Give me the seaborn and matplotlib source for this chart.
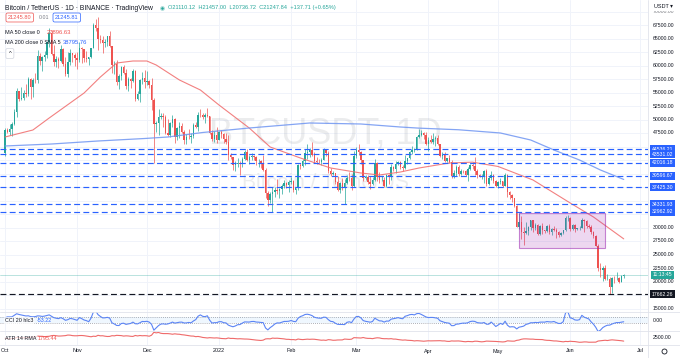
import numpy as np
import pandas as pd
import matplotlib
matplotlib.use("Agg")
import matplotlib.pyplot as plt
import matplotlib.transforms as mtransforms
from matplotlib.patches import Rectangle
import seaborn as sns

# ---------------- data ----------------
start_date = "2021-10-01"          # first visible candle
warm_start = "2021-09-11"          # warm-up days (indicators only)

warm_close = [45161, 46026, 44940, 47112, 48146, 47754, 47300, 48314, 47250, 42970,
              40614, 43576, 44895, 42839, 42716, 43208, 42235, 41034, 41564, 43791]
warm_high = [45987, 46460, 46880, 47250, 48500, 48500, 48170, 48843, 48370, 47336,
             43638, 44000, 44978, 45200, 42970, 43950, 44350, 42787, 42590, 44132]
warm_low = [44722, 44742, 43370, 44750, 46700, 47020, 46750, 47045, 46850, 42500,
            39600, 40565, 43091, 40675, 41646, 40750, 42098, 40900, 40753, 41410]

close = [
    # Oct
    48141, 47634, 48200, 49224, 51471, 55315, 53785, 53951, 54949, 54659, 57471, 56005, 57367, 57347, 61672, 60875,
    61528, 62009, 64280, 66001, 62193, 60689, 61286, 60852, 63078, 60328, 58413, 60575, 62253, 61859, 61300,
    # Nov
    61004, 63227, 62971, 61452, 61125, 61527, 63326, 67566, 66971, 64882, 64774, 64122, 64380, 65519, 63607,
    60058, 60344, 56891, 58052, 59707, 58623, 56247, 57541, 57138, 58960, 53726, 54721, 57274, 57776, 56950,
    # Dec
    57184, 56480, 53601, 49152, 49396, 50441, 50588, 50471, 47545, 47140, 49389, 50053, 46702, 48343, 48864, 47632,
    46131, 46834, 46681, 46914, 48889, 48588, 50838, 50821, 50429, 50809, 50640, 47589, 46444, 47140, 46217,
    # Jan
    47722, 47286, 46446, 45832, 43451, 43082, 41566, 41680, 41864, 41822, 42735, 43949, 42591, 43099, 43177, 43113,
    42250, 42375, 41744, 40680, 36445, 35071, 36244, 36660, 36958, 36809, 37160, 37716, 38166, 37881, 38466,
    # Feb
    38691, 36896, 37311, 41574, 41382, 42380, 43840, 44043, 44373, 43495, 42373, 42217, 42053, 42535, 44544, 43873,
    40515, 39974, 40079, 38386, 37008, 38231, 37250, 38328, 39219, 39116, 37700, 43160,
    # Mar
    44421, 43892, 42454, 39148, 39397, 38420, 37988, 38730, 41941, 39422, 38730, 38807, 37777, 39671, 39280, 41114,
    40917, 41757, 42201, 41262, 41002, 42364, 42882, 43991, 44313, 44511, 46827, 47128, 47465, 47062, 45538,
    # Apr
    46281, 45868, 46453, 46622, 45555, 43206, 43503, 42287, 42782, 42207, 39521, 40074, 41147, 39942, 40552,
    40378, 39678, 40801, 41493, 41358, 40480, 39709, 39441, 39450, 40426, 38112, 39235, 39742, 38596, 37630,
    # May
    38468, 38525, 37729, 39690, 36552, 36014, 35468, 34038, 30076, 31017, 29104, 29030, 29287, 30086, 31329, 29874,
    30425, 28716, 30297, 29445, 29400, 30266, 29081, 29655, 29542, 29201, 28630, 29031, 29468, 31734, 31801,
    # Jun
    29805, 30452, 29700, 29864, 29919, 31373, 31125, 30204, 30109, 29091, 28424, 26574, 22487, 22136, 22583, 20401,
    20468, 18970, 20574, 20573, 20723, 19987, 21110.12, 21247.84,
]
high = [
    48495, 48336, 49228, 49536, 51886, 55750, 55332, 56100, 55490, 56561, 57839, 57680, 57750, 58532, 62933, 62378,
    61720, 62695, 64486, 67000, 66639, 63732, 61747, 61500, 63710, 63293, 61496, 62499, 62980, 62359, 62405,
    62437, 64270, 63500, 63086, 62599, 61560, 63286, 67789, 68530, 69000, 65600, 65460, 65000, 65550, 66401,
    63617, 60800, 60976, 58351, 59845, 60029, 59266, 57875, 57772, 59398, 59150, 55280, 57445, 58865, 59176,
    59053, 57375, 57600, 53904, 49699, 51936, 51200, 51198, 50805, 50125, 49485, 50797, 50189, 48700, 49500, 49436,
    48000, 47360, 48300, 47537, 49328, 49576, 51375, 51868, 51156, 51280, 52088, 50704, 48139, 47900, 48548,
    47954, 47990, 47570, 47505, 47070, 43748, 43145, 42300, 42786, 42248, 43100, 44322, 44458, 43448, 43800, 43475,
    43200, 42691, 42478, 43505, 41100, 36835, 36500, 37550, 37545, 38919, 37234, 38000, 38720, 38359, 38744,
    39265, 38855, 37387, 41772, 41913, 42656, 44500, 45492, 44799, 45821, 43920, 43000, 42760, 42876, 44751, 44549,
    44164, 40959, 40444, 40125, 39494, 38429, 39249, 38968, 39700, 40300, 39886, 44225,
    44949, 45400, 44102, 42527, 39640, 39693, 39547, 39362, 42594, 42039, 40236, 39486, 39310, 39947, 39887, 41718,
    41478, 42325, 42400, 42296, 41544, 43361, 42893, 44200, 45094, 44792, 46999, 48189, 48096, 47700, 47600,
    46720, 47213, 47444, 46890, 47200, 45555, 43900, 43970, 42800, 43410, 42414, 40700, 41561, 41500, 40900,
    40709, 40595, 41116, 41760, 42199, 42976, 40795, 39980, 39940, 40616, 40797, 39474, 40372, 39925, 38795,
    38675, 39167, 38651, 40023, 39845, 36675, 36130, 35503, 34243, 32658, 32162, 30033, 31083, 30343, 31460, 31329,
    30788, 30700, 30545, 30777, 29624, 30487, 30672, 29830, 30223, 29856, 29380, 29250, 29587, 32222, 32399,
    31982, 30690, 30700, 29955, 30189, 31765, 31595, 31339, 30700, 30392, 29440, 28544, 26895, 23363, 22800, 22982,
    21365, 20815, 20802, 21090, 21723, 20868, 21233, 21457,
]
low = [
    43283, 47430, 47088, 46891, 49000, 50382, 53357, 53600, 53661, 54080, 54415, 53879, 54167, 56818, 56850, 60150,
    58963, 60887, 61322, 63481, 62000, 60000, 59668, 59510, 60650, 59817, 58000, 57820, 60174, 60673, 59945,
    59405, 60624, 60382, 60677, 60721, 60050, 61322, 63300, 66382, 62822, 64100, 62333, 63360, 63576, 63400,
    58574, 58373, 56474, 55600, 57353, 58486, 55610, 55317, 55837, 57000, 53500, 53610, 53256, 56666, 55875,
    56458, 55777, 51680, 42000, 47727, 47100, 50039, 48600, 47320, 46852, 46751, 48650, 45672, 46290, 46547, 47511,
    45500, 45456, 46406, 45558, 46630, 48421, 47920, 50384, 50142, 49412, 50449, 47313, 46096, 45900, 45678,
    46208, 46654, 45696, 45502, 42500, 42645, 40610, 40501, 41200, 39650, 41268, 42450, 42311, 41725, 42555, 42581,
    41540, 41250, 41100, 40553, 35440, 34008, 34601, 32917, 35701, 36234, 35507, 36155, 37268, 37351, 36632,
    38000, 36586, 36250, 37026, 40843, 41116, 41645, 42666, 43117, 43174, 41938, 41748, 41870, 41570, 42427, 43307,
    40073, 39450, 39639, 38000, 36800, 36350, 37036, 34322, 38014, 38600, 37000, 37450,
    42809, 43334, 41832, 38550, 38856, 38088, 37155, 37867, 38656, 38539, 38223, 38660, 37578, 37555, 38098, 38828,
    40500, 40135, 41499, 40911, 40467, 40875, 41751, 42600, 43579, 44071, 44421, 46663, 46950, 46445, 45200,
    44255, 45620, 45530, 45118, 45353, 43121, 42727, 42107, 42125, 42000, 39200, 39254, 39588, 39551, 39762,
    40013, 39546, 38536, 40571, 40820, 39751, 39177, 39285, 38929, 38200, 37702, 37881, 38881, 38175, 37578,
    37386, 38052, 37517, 37670, 35571, 35258, 34785, 33713, 30033, 29730, 27785, 26700, 28751, 28630, 29480, 29087,
    29450, 28654, 28693, 28730, 28950, 29255, 28866, 28669, 29294, 28019, 28282, 28502, 28811, 29300, 31200,
    29301, 29594, 29250, 29485, 29530, 29890, 29218, 29843, 29944, 28850, 28099, 26560, 21925, 20846, 20111, 20232,
    20246, 17622, 17960, 19637, 20348, 19770, 19890, 20736.72,
]

# Moving averages
ma50_dates = ["2021-10-01", "2021-10-13", "2021-10-20", "2021-11-04", "2021-11-11", "2021-11-18", "2021-11-25",
              "2021-12-01", "2021-12-05", "2021-12-15", "2021-12-24", "2022-01-01", "2022-01-14", "2022-01-23",
              "2022-02-05", "2022-02-18", "2022-03-03", "2022-03-11", "2022-03-20", "2022-03-28", "2022-04-10",
              "2022-04-20", "2022-05-01", "2022-05-16", "2022-06-01", "2022-06-11", "2022-06-24"]
ma50_values = [46760, 48056, 50278, 54907, 57870, 60463, 60833, 60833, 60093, 57315, 55463, 52685, 48426, 44907,
               42870, 41019, 40093, 39722, 40278, 41019, 41944, 42100, 41300, 38796, 34537, 31944, 27897]
ma200_dates = ["2021-10-01", "2021-10-21", "2021-11-10", "2021-11-30", "2021-12-10", "2021-12-25", "2022-01-14",
               "2022-02-09", "2022-03-03", "2022-03-20", "2022-03-28", "2022-04-14", "2022-05-02", "2022-05-15",
               "2022-05-25", "2022-06-05", "2022-06-14", "2022-06-24"]
ma200_values = [45093, 45463, 46019, 46481, 46759, 47593, 48426, 49352, 49167, 48611, 48400, 48100, 47500, 46204,
                44352, 42500, 40648, 38900]

# Horizontal levels
blue_levels = [44536.21, 43531.02, 42016.18, 39596.67, 37425.30, 34331.93, 32962.92]
black_level = 17662.26
last_price = 21247.84
# Consolidation box
box_start, box_end = "2022-05-10", "2022-06-16"
box_low, box_high = 26260, 32685

month_labels = ["Oct", "Nov", "Dec", "2022", "Feb", "Mar", "Apr", "May", "Jun", "Jul"]
month_dates = ["2021-10-01", "2021-11-01", "2021-12-01", "2022-01-01", "2022-02-01", "2022-03-01",
               "2022-04-01", "2022-05-01", "2022-06-01", "2022-07-01"]

# ---------------- prepare ----------------
n = min(len(close), len(high), len(low))
c_all = np.array(warm_close + close[:n], float)
h_all = np.array(warm_high + high[:n], float)
l_all = np.array(warm_low + low[:n], float)
o_all = np.r_[c_all[0], c_all[:-1]]
h_all = np.maximum.reduce([h_all, o_all, c_all])
l_all = np.minimum.reduce([l_all, o_all, c_all])
nw = len(warm_close)
df = pd.DataFrame({"open": o_all, "high": h_all, "low": l_all, "close": c_all})
df["day"] = np.arange(len(df)) - nw

tp = (df.high + df.low + df.close) / 3
sma = tp.rolling(20).mean()
mad = tp.rolling(20).apply(lambda v: np.abs(v - v.mean()).mean(), raw=True)
df["cci"] = (tp - sma) / (0.015 * mad)
pc = df.close.shift(1)
tr = pd.concat([df.high - df.low, (df.high - pc).abs(), (df.low - pc).abs()], axis=1).max(axis=1)
df["atr"] = tr.ewm(alpha=1 / 14, adjust=False).mean()
vis = df[df.day >= 0].reset_index(drop=True)

t0 = pd.Timestamp(start_date)
def dayoff(lst):
    return np.array([(pd.Timestamp(d) - t0).days for d in lst], float)

ma50 = pd.DataFrame({"day": dayoff(ma50_dates), "v": ma50_values})
ma200 = pd.DataFrame({"day": dayoff(ma200_dates), "v": ma200_values})

# ---------------- figure ----------------
sns.set_style("white")
plt.rcParams['font.family'] = ['Liberation Sans', 'DejaVu Sans']
W, H = 680, 358
fig = plt.figure(figsize=(W / 100, H / 100), dpi=100)
fig.patch.set_facecolor("white")

def rect(x0, y0, x1, y1):
    return [x0 / W, 1 - y1 / H, (x1 - x0) / W, (y1 - y0) / H]

ax = fig.add_axes(rect(0, 0, 648, 312))
axc = fig.add_axes(rect(0, 312, 648, 331))
axa = fig.add_axes(rect(0, 331, 648, 345))
PXD = 2.326
xlim = (-5 / PXD, (648 - 5) / PXD)
for a in (ax, axc, axa):
    a.set_xlim(*xlim)
    for s in a.spines.values():
        s.set_visible(False)
    a.set_xticks([]); a.set_yticks([])
    a.set_facecolor("none")

ymin = 67500 - (312 - 25) / 0.0054
ymax = 67500 + 25 / 0.0054
ax.set_ylim(ymin, ymax)

GRID = "#f0f3fa"
mdays = dayoff(month_dates)
for a in (ax, axc, axa):
    for d in mdays:
        a.axvline(d, color=GRID, lw=0.7, zorder=0)
for p in np.arange(15000, 72501, 2500):
    ax.axhline(p, color=GRID, lw=0.7, zorder=0)

# watermark
ax.text(325 / W, 1 - 134 / H, "BTCUSDT, 1D", transform=fig.transFigure, fontsize=26, color="#787b86",
        alpha=0.14, ha="center", va="center", zorder=1)
ax.text(325 / W, 1 - 182 / H, "Bitcoin / TetherUS", transform=fig.transFigure, fontsize=15, color="#787b86",
        alpha=0.14, ha="center", va="center", zorder=1)

# candles
up = vis.close >= vis.open
cols = np.where(up, "#26a69a", "#ef5350")
ax.vlines(vis.day, vis.low, vis.high, colors=cols, lw=0.5, zorder=3)
body = np.maximum((vis.close - vis.open).abs(), 50)
ax.bar(vis.day, body, bottom=np.minimum(vis.open, vis.close), width=0.62, color=cols, lw=0, zorder=4)

# moving averages
sns.lineplot(data=ma50, x="day", y="v", ax=ax, color="#f06a6a", lw=0.8, alpha=0.85, zorder=5)
sns.lineplot(data=ma200, x="day", y="v", ax=ax, color="#6f95f2", lw=0.9, alpha=0.85, zorder=5)

# box
bx0, bx1 = dayoff([box_start, box_end])
ax.add_patch(Rectangle((bx0, box_low), bx1 - bx0, box_high - box_low, fc=(0.61, 0.15, 0.69, 0.18),
                       ec=(0.61, 0.15, 0.69, 0.55), lw=0.8, zorder=6))

# levels
for lv in blue_levels:
    ax.axhline(lv, color="#2962ff", lw=0.85, ls=(0, (5, 2.8)), zorder=7)
ax.axhline(black_level, color="#131722", lw=0.85, ls=(0, (5, 2.8)), zorder=7)
ax.axhline(last_price, color="#26a69a", lw=0.5, alpha=0.45, zorder=2)

# CCI
axc.set_ylim(-330, 240)
axc.axhspan(-100, 100, color="#2196f3", alpha=0.07, lw=0, zorder=1)
for v in (100, -100):
    axc.axhline(v, color="#9598a1", lw=0.6, ls=(0, (1, 1.5)), zorder=2)
sns.lineplot(data=vis, x="day", y="cci", ax=axc, color="#5b84f5", lw=0.8, zorder=3)

# ATR
amax, amin = vis.atr.max(), vis.atr.min()
sc = (amax - amin) / 10.0
axa.set_ylim(amin - 2.7 * sc, amax + 1.3 * sc)
sns.lineplot(data=vis, x="day", y="atr", ax=axa, color="#ef6a6a", lw=0.8, zorder=3)

for a in (ax, axc, axa):
    a.set_xlabel(""); a.set_ylabel("")
    a.set_xlim(*xlim)
    a.set_xticks([]); a.set_yticks([])

# separators
SEP = "#e0e3eb"
fig.add_artist(plt.Line2D([648 / W, 648 / W], [0, 1], color=SEP, lw=0.6, transform=fig.transFigure))
for yp in (312, 331, 345):
    fig.add_artist(plt.Line2D([0, 1], [1 - yp / H, 1 - yp / H], color=SEP, lw=0.6, transform=fig.transFigure))

# ---------------- texts ----------------
TXT = "#131722"
def ftext(xp, yp, s, **kw):
    kw.setdefault("va", "center")
    kw.setdefault("ha", "left")
    return fig.text(xp / W, 1 - yp / H, s, **kw)

FS = 3.7
trm = mtransforms.blended_transform_factory(fig.transFigure, ax.transData)
def ypix(v):
    return 25 + (67500 - v) * 0.0054
occupied = [ypix(v) for v in blue_levels + [black_level, last_price]]
for p in np.arange(15000, 70001, 2500):
    if min(abs(ypix(p) - o) for o in occupied) < 6:
        continue
    ax.text(653 / W, p, f"{p:.2f}", transform=trm, fontsize=FS, color=TXT, va="center", ha="left",
            clip_on=False, alpha=0.55 if p == 70000 else 1)
for lv in blue_levels:
    ax.text(652 / W, lv, f"{lv:.2f}", transform=trm, fontsize=FS, color="white", va="center", ha="left",
            bbox=dict(boxstyle="square,pad=0.3", fc="#2962ff", ec="none"), clip_on=False, zorder=10)
ax.text(652 / W, black_level, f"{black_level:.2f}", transform=trm, fontsize=FS, color="white", va="center",
        ha="left", bbox=dict(boxstyle="square,pad=0.3", fc="#131722", ec="none"), clip_on=False, zorder=10)
ax.text(653 / W, last_price, "11:13:45", transform=trm, fontsize=FS, color="white", va="center", ha="left",
        bbox=dict(boxstyle="square,pad=0.3", fc="#26a69a", ec="none"), clip_on=False, zorder=10)
ftext(654, 6, "USDT \u25be", fontsize=4.0, color=TXT,
      bbox=dict(boxstyle="square,pad=0.5", fc="white", ec="none"))

trc = mtransforms.blended_transform_factory(fig.transFigure, axc.transData)
axc.text(653 / W, 0, "0.00", transform=trc, fontsize=FS, color=TXT, va="center", ha="left", clip_on=False)
tra = mtransforms.blended_transform_factory(fig.transFigure, axa.transData)
axa.text(653 / W, 2500, "2500.00", transform=tra, fontsize=FS, color=TXT, va="center", ha="left", clip_on=False)

for lab, d in zip(month_labels, mdays):
    ftext(5 + d * PXD, 351, lab, fontsize=3.9, color=TXT, ha="center")
fig.add_artist(plt.Line2D([664 / W], [1 - 351 / H], marker="o", ms=3.6, mfc="none", mec=TXT, mew=0.6,
                          transform=fig.transFigure))

# legend area
ftext(5, 8, "Bitcoin / TetherUS \u00b7 1D \u00b7 BINANCE \u00b7 TradingView", fontsize=4.9, color=TXT)
fig.add_artist(plt.Line2D([162 / W], [1 - 8 / H], marker="o", ms=2.6, mfc="#26a69a", mec="#b2dfdb", mew=0.8,
                          transform=fig.transFigure))
ftext(168, 8, "O21110.12  H21457.00  L20736.72  C21247.84  +137.71 (+0.65%)", fontsize=4.05, color="#26a69a")
ftext(8, 17.5, "21245.80", fontsize=4.1, color="#ef5350",
      bbox=dict(boxstyle="round,pad=0.35,rounding_size=0.3", fc="white", ec="#ef5350", lw=0.5))
ftext(39, 17.5, "0.01", fontsize=3.8, color="#787b86")
ftext(55, 17.5, "21245.81", fontsize=4.1, color="#2962ff",
      bbox=dict(boxstyle="round,pad=0.35,rounding_size=0.3", fc="white", ec="#2962ff", lw=0.5))
ftext(5, 32.5, "MA 50 close 0", fontsize=4.0, color=TXT)
ftext(47, 32.5, "27896.63", fontsize=4.2, color="#ef5350")
ftext(5, 43, "MA 200 close 0 SMA 5", fontsize=4.0, color=TXT)
ftext(63, 43, "38795.76", fontsize=4.2, color="#2962ff")
ftext(8.5, 53.5, "^", fontsize=4.2, color=TXT,
      bbox=dict(boxstyle="round,pad=0.45,rounding_size=0.3", fc="white", ec="#d1d4dc", lw=0.5))

ftext(5, 320.5, "CCI 20 hlc3", fontsize=3.9, color=TXT,
      bbox=dict(boxstyle="round,pad=0.2", fc=(1, 1, 1, 0.75), ec="none"))
ftext(37, 320.5, "-53.22", fontsize=3.9, color="#2962ff")
ftext(5, 338.5, "ATR 14 RMA", fontsize=3.9, color=TXT,
      bbox=dict(boxstyle="round,pad=0.2", fc=(1, 1, 1, 0.75), ec="none"))
ftext(38, 338.5, "1795.44", fontsize=3.9, color="#ef5350")

fig.savefig("out.png", dpi=100, facecolor="white")
